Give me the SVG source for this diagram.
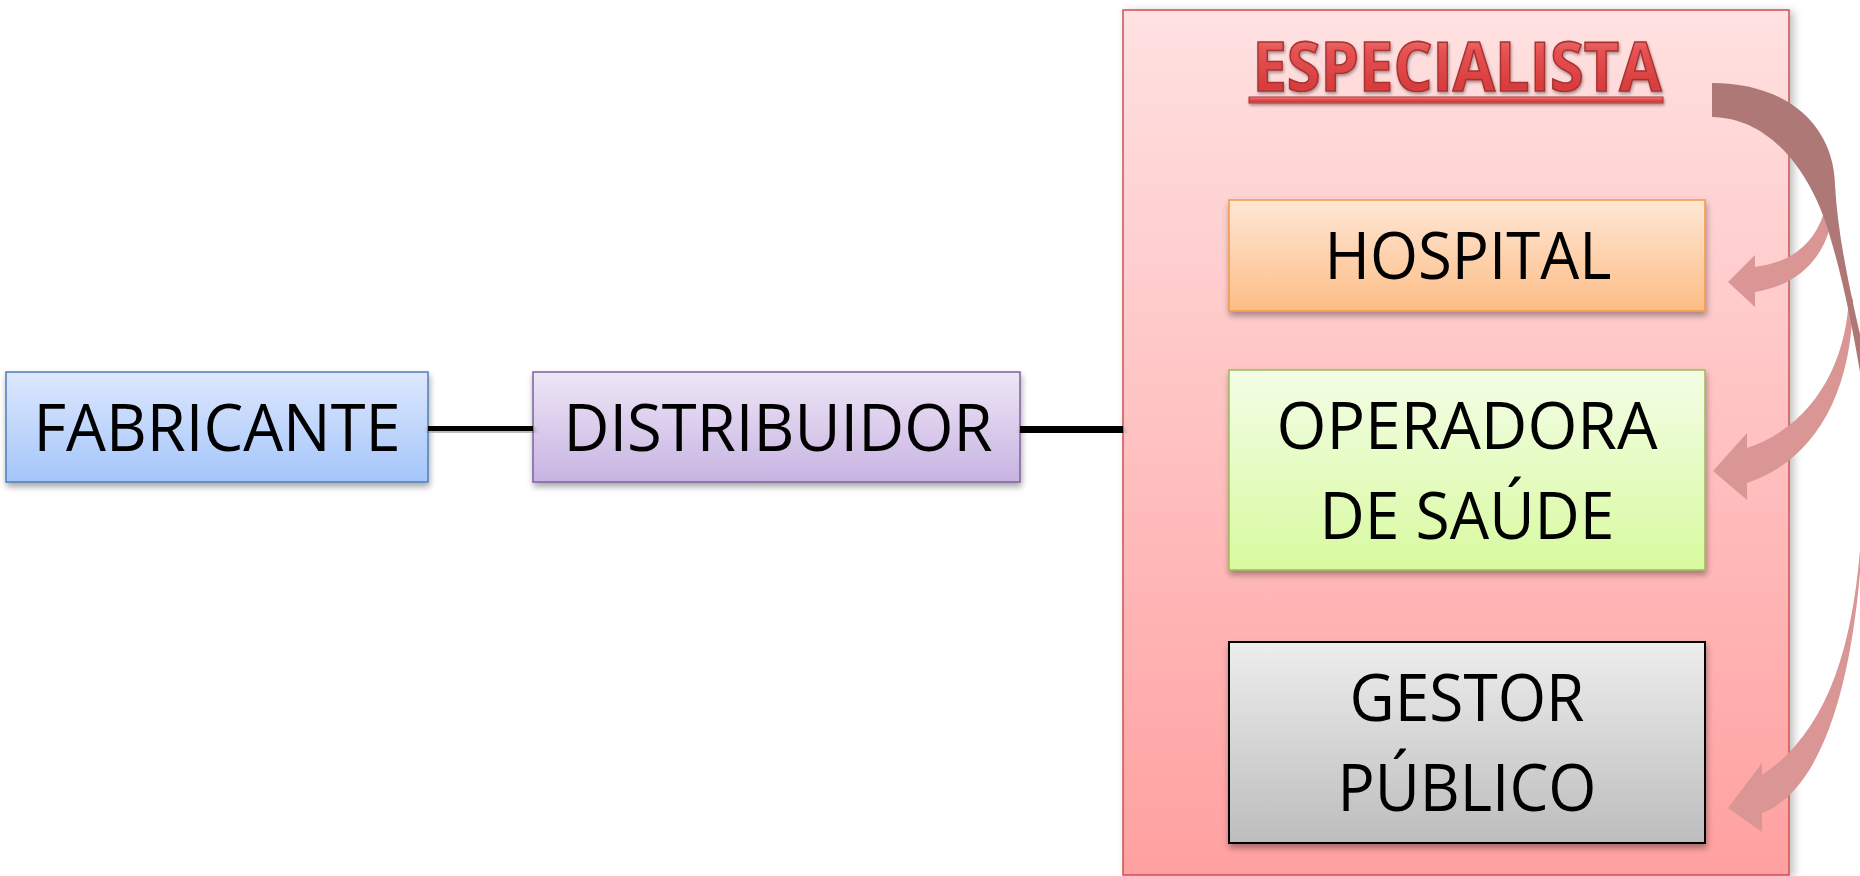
<svg xmlns="http://www.w3.org/2000/svg" width="1860" height="876" viewBox="0 0 1860 876">
<defs>
<style>
.lbl{font-family:"Open Sans","Noto Sans","Liberation Sans",sans-serif;font-size:66px;fill:#000;text-anchor:middle}
.title{font-family:"Open Sans","Noto Sans","Liberation Sans",sans-serif;font-size:68px;font-weight:bold;text-anchor:middle;fill:url(#gTitle);stroke:#a83232;stroke-width:1.6}
.back{fill:#ae7876}
.front{fill:#d99694}
.link{stroke:#000;fill:none}
</style>
<linearGradient id="gBlue" x1="0" y1="0" x2="0" y2="1"><stop offset="0" stop-color="#dde8fd"/><stop offset="1" stop-color="#a5c5fb"/></linearGradient>
<linearGradient id="gPurple" x1="0" y1="0" x2="0" y2="1"><stop offset="0" stop-color="#eee6f6"/><stop offset="1" stop-color="#c8b3e2"/></linearGradient>
<linearGradient id="gOrange" x1="0" y1="0" x2="0" y2="1"><stop offset="0" stop-color="#fee7d5"/><stop offset="1" stop-color="#fdbd86"/></linearGradient>
<linearGradient id="gGreen" x1="0" y1="0" x2="0" y2="1"><stop offset="0" stop-color="#f3fde6"/><stop offset="1" stop-color="#d8fa9f"/></linearGradient>
<linearGradient id="gGrey" x1="0" y1="0" x2="0" y2="1"><stop offset="0" stop-color="#ededed"/><stop offset="1" stop-color="#bdbdbd"/></linearGradient>
<linearGradient id="gCont" x1="0" y1="0" x2="0" y2="1"><stop offset="0" stop-color="#ffe1e1"/><stop offset="1" stop-color="#ffa0a0"/></linearGradient>
<linearGradient id="gTitle" x1="0" y1="0" x2="0" y2="1"><stop offset="0" stop-color="#f59a9a"/><stop offset="0.35" stop-color="#e65252"/><stop offset="0.75" stop-color="#d83c3c"/><stop offset="1" stop-color="#ea7070"/></linearGradient>
<filter id="sh" x="-10%" y="-10%" width="125%" height="140%"><feDropShadow dx="1" dy="4" stdDeviation="3" flood-color="#000" flood-opacity="0.35"/></filter>
<filter id="shC" x="-5%" y="-5%" width="115%" height="110%"><feDropShadow dx="4" dy="2" stdDeviation="4" flood-color="#000" flood-opacity="0.25"/></filter>
<filter id="shT" x="-5%" y="-20%" width="110%" height="150%"><feDropShadow dx="1" dy="2" stdDeviation="1.5" flood-color="#000" flood-opacity="0.35"/></filter>
</defs>
<rect width="1860" height="876" fill="#fff"/>

<g id="fabricante">
<rect x="6" y="372" width="422" height="110" fill="url(#gBlue)" stroke="#4a7ebb" stroke-width="1.5" filter="url(#sh)"/>
<text class="lbl" x="217" y="451" font-size="68" textLength="367" lengthAdjust="spacingAndGlyphs">FABRICANTE</text>
</g>

<g id="distribuidor">
<rect x="533" y="372" width="487" height="110" fill="url(#gPurple)" stroke="#7d60a0" stroke-width="1.5" filter="url(#sh)"/>
<text class="lbl" x="778" y="451" font-size="68" textLength="429" lengthAdjust="spacingAndGlyphs">DISTRIBUIDOR</text>
</g>

<g id="especialista">
<rect x="1123" y="10" width="666" height="865" fill="url(#gCont)" stroke="#d05050" stroke-width="1.5" filter="url(#shC)"/>
<g filter="url(#shT)">
<text class="title" x="1457" y="91" textLength="409" lengthAdjust="spacingAndGlyphs">ESPECIALISTA</text>
<rect x="1249" y="97" width="414" height="6" fill="url(#gTitle)" stroke="#a83232" stroke-width="1"/>
</g>
</g>

<g id="hospital">
<rect x="1229" y="200" width="476" height="111" fill="url(#gOrange)" stroke="#f79646" stroke-width="1.5" filter="url(#sh)"/>
<text class="lbl" x="1468" y="279" textLength="287" lengthAdjust="spacingAndGlyphs">HOSPITAL</text>
</g>

<g id="operadora">
<rect x="1229" y="370" width="476" height="200" fill="url(#gGreen)" stroke="#9bbb59" stroke-width="1.5" filter="url(#sh)"/>
<text class="lbl" x="1467" y="449" textLength="381" lengthAdjust="spacingAndGlyphs">OPERADORA</text>
<text class="lbl" x="1467" y="539" textLength="295" lengthAdjust="spacingAndGlyphs">DE SAÚDE</text>
</g>

<g id="gestor">
<rect x="1229" y="642" width="476" height="201" fill="url(#gGrey)" stroke="#000" stroke-width="2" filter="url(#sh)"/>
<text class="lbl" x="1467" y="721" textLength="235" lengthAdjust="spacingAndGlyphs">GESTOR</text>
<text class="lbl" x="1467" y="811" textLength="259" lengthAdjust="spacingAndGlyphs">PÚBLICO</text>
</g>

<g id="connectors">
<g filter="url(#sh)">
<line class="link" x1="428" y1="427" x2="533" y2="427" stroke-width="8"/>
<line class="link" x1="1020" y1="431" x2="1123" y2="431" stroke-width="10"/>
</g>
<path class="front" d="M1826,205 C1818,240 1795,262 1755,267 L1755,255 L1728,282 L1755,307 L1755,292 C1800,285 1830,255 1834,205 Z"/>
<path class="front" d="M1849,292 C1848,360 1815,425 1747,448 L1747,433 L1713,471 L1747,500 L1747,483 C1810,462 1852,400 1853,300 Z"/>
<path class="front" d="M1862,520 C1856,640 1830,730 1762,775 L1762,763 L1728,808 L1762,832 L1762,813 C1818,792 1853,695 1862,545 Z"/>
<path class="back" d="M1712,83 C1790,83 1834,128 1835,185 C1838,240 1852,300 1866,360 L1866,380 L1860,372 C1853,330 1843,280 1831,240 C1815,180 1775,118 1712,117 Z"/>
</g>
</svg>
